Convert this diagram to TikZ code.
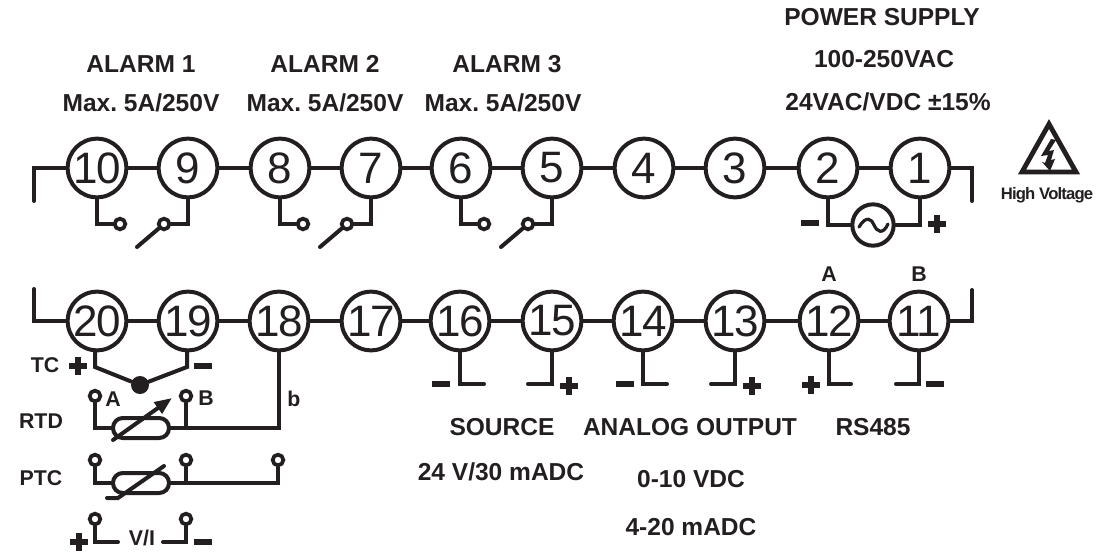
\documentclass[tikz,border=0pt]{standalone}
\usepackage{fontspec}
\setmainfont{Liberation Sans}
\usetikzlibrary{arrows.meta}
\newcommand{\pxfont}[1]{\fontsize{#1}{#1}\selectfont}
\definecolor{ink}{HTML}{231F20}
\tikzset{
  x=0.75pt,y=-0.75pt,
  wire/.style={line width=3pt,line cap=round,line join=miter,color=ink},
  thin wire/.style={line width=2.4pt,line cap=round,color=ink},
  term/.style={circle,draw=ink,line width=3pt,fill=white,minimum size=44pt,inner sep=0pt,text=ink,font=\pxfont{33}},
  cont/.style={circle,draw=ink,line width=2.8pt,fill=white,minimum size=8pt,inner sep=0pt},
  lab/.style={inner sep=0pt,text=ink,font=\bfseries\pxfont{18.4}},
  slab/.style={inner sep=0pt,text=ink,font=\bfseries\pxfont{16}},
  sign/.style={inner sep=0pt,fill=ink,minimum width=13.5pt,minimum height=4.3pt},
}
\begin{document}
\frenchspacing
\begin{tikzpicture}
\useasboundingbox (0,0) rectangle (1099,553);
% top row terminals
\foreach \n/\xx in {10/97,9/188,8/280,7/371,6/461,5/552,4/644,3/735,2/828,1/920}
  \node[term] (t\n) at (\xx,168) {\addfontfeature{LetterSpace=-3}\n};
% bottom row terminals
\foreach \n/\xx/\yy in {20/97/321,19/188/321,18/279/321,17/371/321,16/460/321,15/552/321,14/643/321,13/735/321,12/829/321,11/919/321}
  \node[term] (t\n) at (\xx,\yy) {\addfontfeature{LetterSpace=-3}\n};
% chains
\coordinate (lt) at (34,168); \coordinate (ltend) at (34,201);
\coordinate (rt) at (972,168); \coordinate (rtend) at (972,201);
\coordinate (lb) at (34,321); \coordinate (lbend) at (34,289);
\coordinate (rb) at (972,321); \coordinate (rbend) at (972,290);
\draw[wire] (ltend) -- (lt) -- (t10);
\draw[wire] (t1) -- (rt) -- (rtend);
\draw[wire] (lbend) -- (lb) -- (t20);
\draw[wire] (t11) -- (rb) -- (rbend);
\foreach \a/\b in {10/9,9/8,8/7,7/6,6/5,5/4,4/3,3/2,2/1,20/19,19/18,18/17,17/16,16/15,15/14,14/13,13/12,12/11}
  \draw[wire] (t\a) -- (t\b);
% relay contacts
\foreach \a/\b/\xa/\xb in {10/9/120/164,8/7/303/347,6/5/484/528}{
  \node[cont] (oa\a) at (\xa,224) {};
  \node[cont] (ob\b) at (\xb,224) {};
  \coordinate (arm\b) at (\xb-27,247);
  \draw[wire] (t\a) |- (oa\a);
  \draw[wire] (t\b) |- (ob\b);
  \draw[wire] (ob\b) -- (arm\b);
}
% supply
\node[circle,draw=ink,line width=3pt,fill=white,minimum size=31pt,inner sep=0pt] (ac) at (873,225) {};
\draw[wire] (t2) |- (ac);
\draw[wire] (t1) |- (ac);
\draw[wire,line width=2.4pt] (859,227) .. controls (866,215) and (872,219) .. (874,225) .. controls (877,232) and (883,235) .. (888,224);
\node[sign] (sm2) at (810,223) {};
\node[sign,minimum width=13pt] (sp1a) at (937,224) {};
\node[sign,minimum width=4.3pt,minimum height=13pt] (sp1b) at (937,224) {};
% warning triangle
\coordinate (ha) at (1049,124); \coordinate (hb) at (1076,172); \coordinate (hc) at (1022,172);
\draw[ink,line width=3.6pt,line join=miter] (ha) -- (hb) -- (hc) -- cycle;
\fill[ink] (1051,139) -- (1041,156) -- (1048,155) -- (1045,163) -- (1042,162) -- (1050,171) -- (1055,159) -- (1051,160) -- (1054,150) -- (1049,151) -- (1056,140) -- cycle;
\node[inner sep=0pt,text=ink,font=\bfseries\pxfont{12.5}] (hv) at (1047,195) {\addfontfeature{LetterSpace=-5}High Voltage};
% bottom right stems
\foreach \n/\xe/\ye in {16/484/384,15/528/384,14/667/384,13/711/384,12/851/384,11/896/384}{
  \coordinate (e\n) at (\xe,\ye);
  \draw[wire] (t\n) |- (e\n);
}
\foreach \n/\xx/\yy in {m16/441/384,m14/625/384,m11/935/384,mtc/203/366,mvi/203/542}
  \node[sign] (s\n) at (\xx,\yy) {};
\foreach \n/\xx/\yy in {p15/569/386,p13/752/386,p12/811/385,ptc/78/366,pvi/79/542}{
  \node[sign,minimum width=13pt] (s\n a) at (\xx,\yy) {};
  \node[sign,minimum width=4.3pt,minimum height=13pt] (s\n b) at (\xx,\yy) {};
}
% TC
\node[circle,fill=ink,minimum size=13.5pt,inner sep=0pt] (tcj) at (140,385) {};
\coordinate (tca) at (95,367); \coordinate (tcb) at (187,367);
\draw[wire] (tca |- t20.south) -- (tca) -- (tcj) -- (tcb) -- (tcb |- t19.south);
% RTD
\node[cont] (ra) at (95,396) {};
\node[cont] (rb2) at (186,396) {};
\node[draw=ink,line width=3pt,rounded corners=7.4pt,minimum width=42pt,minimum height=15pt,inner sep=0pt] (rpill) at (141,428) {};
\coordinate (rtd18) at (279,428);
\draw[wire] (ra) |- (rpill);
\draw[wire] (rpill) -- (rtd18) -- (t18);
\draw[wire] (rb2) -- (186,428);
\coordinate (ar0) at (113,440); \coordinate (ar1) at (172,398);
\draw[wire,-{Triangle[length=13pt,width=10pt]}] (ar0) -- (ar1);
% PTC
\node[cont] (pa) at (95,460) {};
\node[cont] (pb) at (186,460) {};
\node[cont] (pc) at (278,460) {};
\node[draw=ink,line width=3pt,rounded corners=7.4pt,minimum width=42pt,minimum height=15pt,inner sep=0pt] (ppill) at (141,483) {};
\coordinate (ptcr) at (278,483);
\draw[wire] (pa) |- (ppill);
\draw[thin wire] (ppill) -- (ptcr) -- (pc);
\draw[thin wire] (pb) -- (186,483);
\draw[wire] (107,498) -- (118,498) -- (164,466);
% V/I
\node[cont] (va) at (95,519) {};
\node[cont] (vb) at (186,519) {};
\coordinate (vae) at (118,542); \coordinate (vbe) at (163,542);
\draw[wire] (va) |- (vae);
\draw[wire] (vb) |- (vbe);
% labels
\foreach \n/\xx/\yy/\t in {
 a1/141/64/ALARM 1, a1b/141/103/Max. 5A{/}250V,
 a2/325/64/ALARM 2, a2b/325/103/Max. 5A{/}250V,
 a3/507/64/ALARM 3, a3b/503/103/Max. 5A{/}250V,
 ps/882/17/POWER SUPPLY, psb/884/59/100-250VAC, psc/888/102/24VAC{/}VDC ±15\%,
 so/502/427/SOURCE, ao/690/427/ANALOG OUTPUT, rs/873/427/RS485,
 so2/501/472/24 V{/}30 mADC, ao2/691/479/0-10 VDC, ao3/691/527/4-20 mADC}
  \node[lab] (n\n) at (\xx,\yy) {\t};
\foreach \n/\xx/\yy/\t in {
 tc/45/365/TC, rtd/41/421/RTD, ptc/41/478/PTC, vi/142/538/V{/}I,
 la/113/399/A, lb/206/398/B, lbb/294/399/b, l12/829/274/A, l11/919/274/B}
  \node[slab] (n\n) at (\xx,\yy) {\t};
\end{tikzpicture}
\end{document}
